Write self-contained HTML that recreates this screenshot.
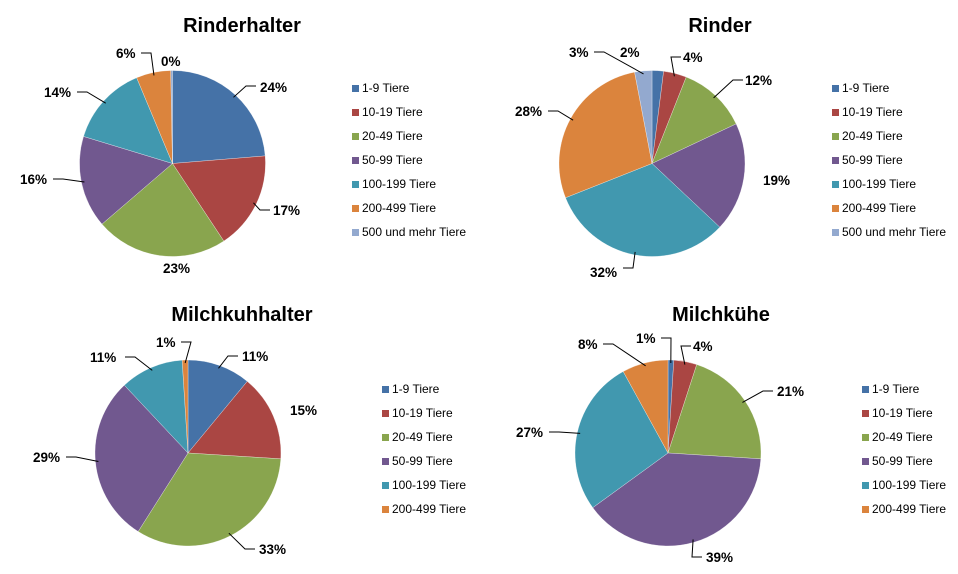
<!DOCTYPE html>
<html><head><meta charset="utf-8"><style>
body{margin:0;background:#fff}
svg{display:block}
text{font-family:"Liberation Sans",Arial,sans-serif}
.t{font-size:20px;font-weight:bold;text-anchor:middle}
.l{font-size:13.5px;font-weight:bold}
.g{font-size:12px}
</style></head><body>
<svg id="s" width="958" height="574" xmlns="http://www.w3.org/2000/svg">
<text class="t" x="242" y="32">Rinderhalter</text>
<text class="t" x="720" y="32">Rinder</text>
<text class="t" x="242" y="321">Milchkuhhalter</text>
<text class="t" x="721" y="321">Milchkühe</text>
</svg>
<script>
const C=["#4572A7","#AA4643","#89A54E","#71588F","#4198AF","#DB843D","#93A9CF"];
const N=["1-9 Tiere","10-19 Tiere","20-49 Tiere","50-99 Tiere","100-199 Tiere","200-499 Tiere","500 und mehr Tiere"];
const s=document.getElementById('s');const ns="http://www.w3.org/2000/svg";
function el(t,a,txt){const e=document.createElementNS(ns,t);for(const k in a)e.setAttribute(k,a[k]);if(txt)e.textContent=txt;s.appendChild(e);return e;}
const charts=[
{cx:172.5,cy:163.5,v:[23.7,17,23,16,14,6,0.3],lx:352,ly:92,
 L:[["24%",260,92,258,86],["17%",273,215,272,210],["23%",163,273,null],["16%",20,184,50,179],["14%",44,97,74,92],["6%",116,58,138,53],["0%",161,66,null]]},
{cx:652,cy:163.5,v:[2,4,12,19,32,28,3],lx:832,ly:92,
 L:[["2%",620,57,null],["4%",683,62,683,57],["12%",745,85,745,80],["19%",763,185,null],["32%",590,277,620,268],["28%",515,116,545,111],["3%",569,57,591,52]]},
{cx:188,cy:453,v:[11,15,33,29,11,1],lx:382,ly:393,
 L:[["11%",242,361,240,356],["15%",290,415,null],["33%",259,554,257,549],["29%",33,462,63,457],["11%",90,362,122,357],["1%",156,347,178,342]]},
{cx:668,cy:453,v:[1,4,21,39,27,8],lx:862,ly:393,
 L:[["1%",636,343,658,338],["4%",693,351,693,346],["21%",777,396,775,391],["39%",706,562,704,557],["27%",516,437,546,432],["8%",578,349,600,344]]}
];
for(const c of charts){
 const r=93;let tot=c.v.reduce((a,b)=>a+b,0),a0=0;
 c.v.forEach((v,i)=>{
  const a1=a0+v/tot*2*Math.PI;
  const p=a=>[c.cx+r*Math.sin(a),c.cy-r*Math.cos(a)];
  const [x0,y0]=p(a0),[x1,y1]=p(a1);
  el('path',{d:`M${c.cx},${c.cy}L${x0},${y0}A${r},${r} 0 ${a1-a0>Math.PI?1:0} 1 ${x1},${y1}Z`,fill:C[i],stroke:"#fff","stroke-width":0.3});
  const lb=c.L[i];
  if(lb[3]!=null){const am=(a0+a1)/2;const ex=c.cx+(r-3)*Math.sin(am),ey=c.cy-(r-3)*Math.cos(am);
   const right=lb[3]>c.cx;const hx=lb[3]+(right?-2:3);
   const mx=hx+(right?-10:10);
   el('polyline',{points:`${hx},${lb[4]} ${mx},${lb[4]} ${ex},${ey}`,fill:"none",stroke:"#000","stroke-width":1});}
  el('text',{class:'l',x:lb[1],y:lb[2]},lb[0]);
  el('rect',{x:c.lx,y:c.ly+24*i-7,width:7,height:7,fill:C[i]});
  el('text',{class:'g',x:c.lx+10,y:c.ly+24*i},N[i]);
  a0=a1;
 });
}
</script>
</body></html>
